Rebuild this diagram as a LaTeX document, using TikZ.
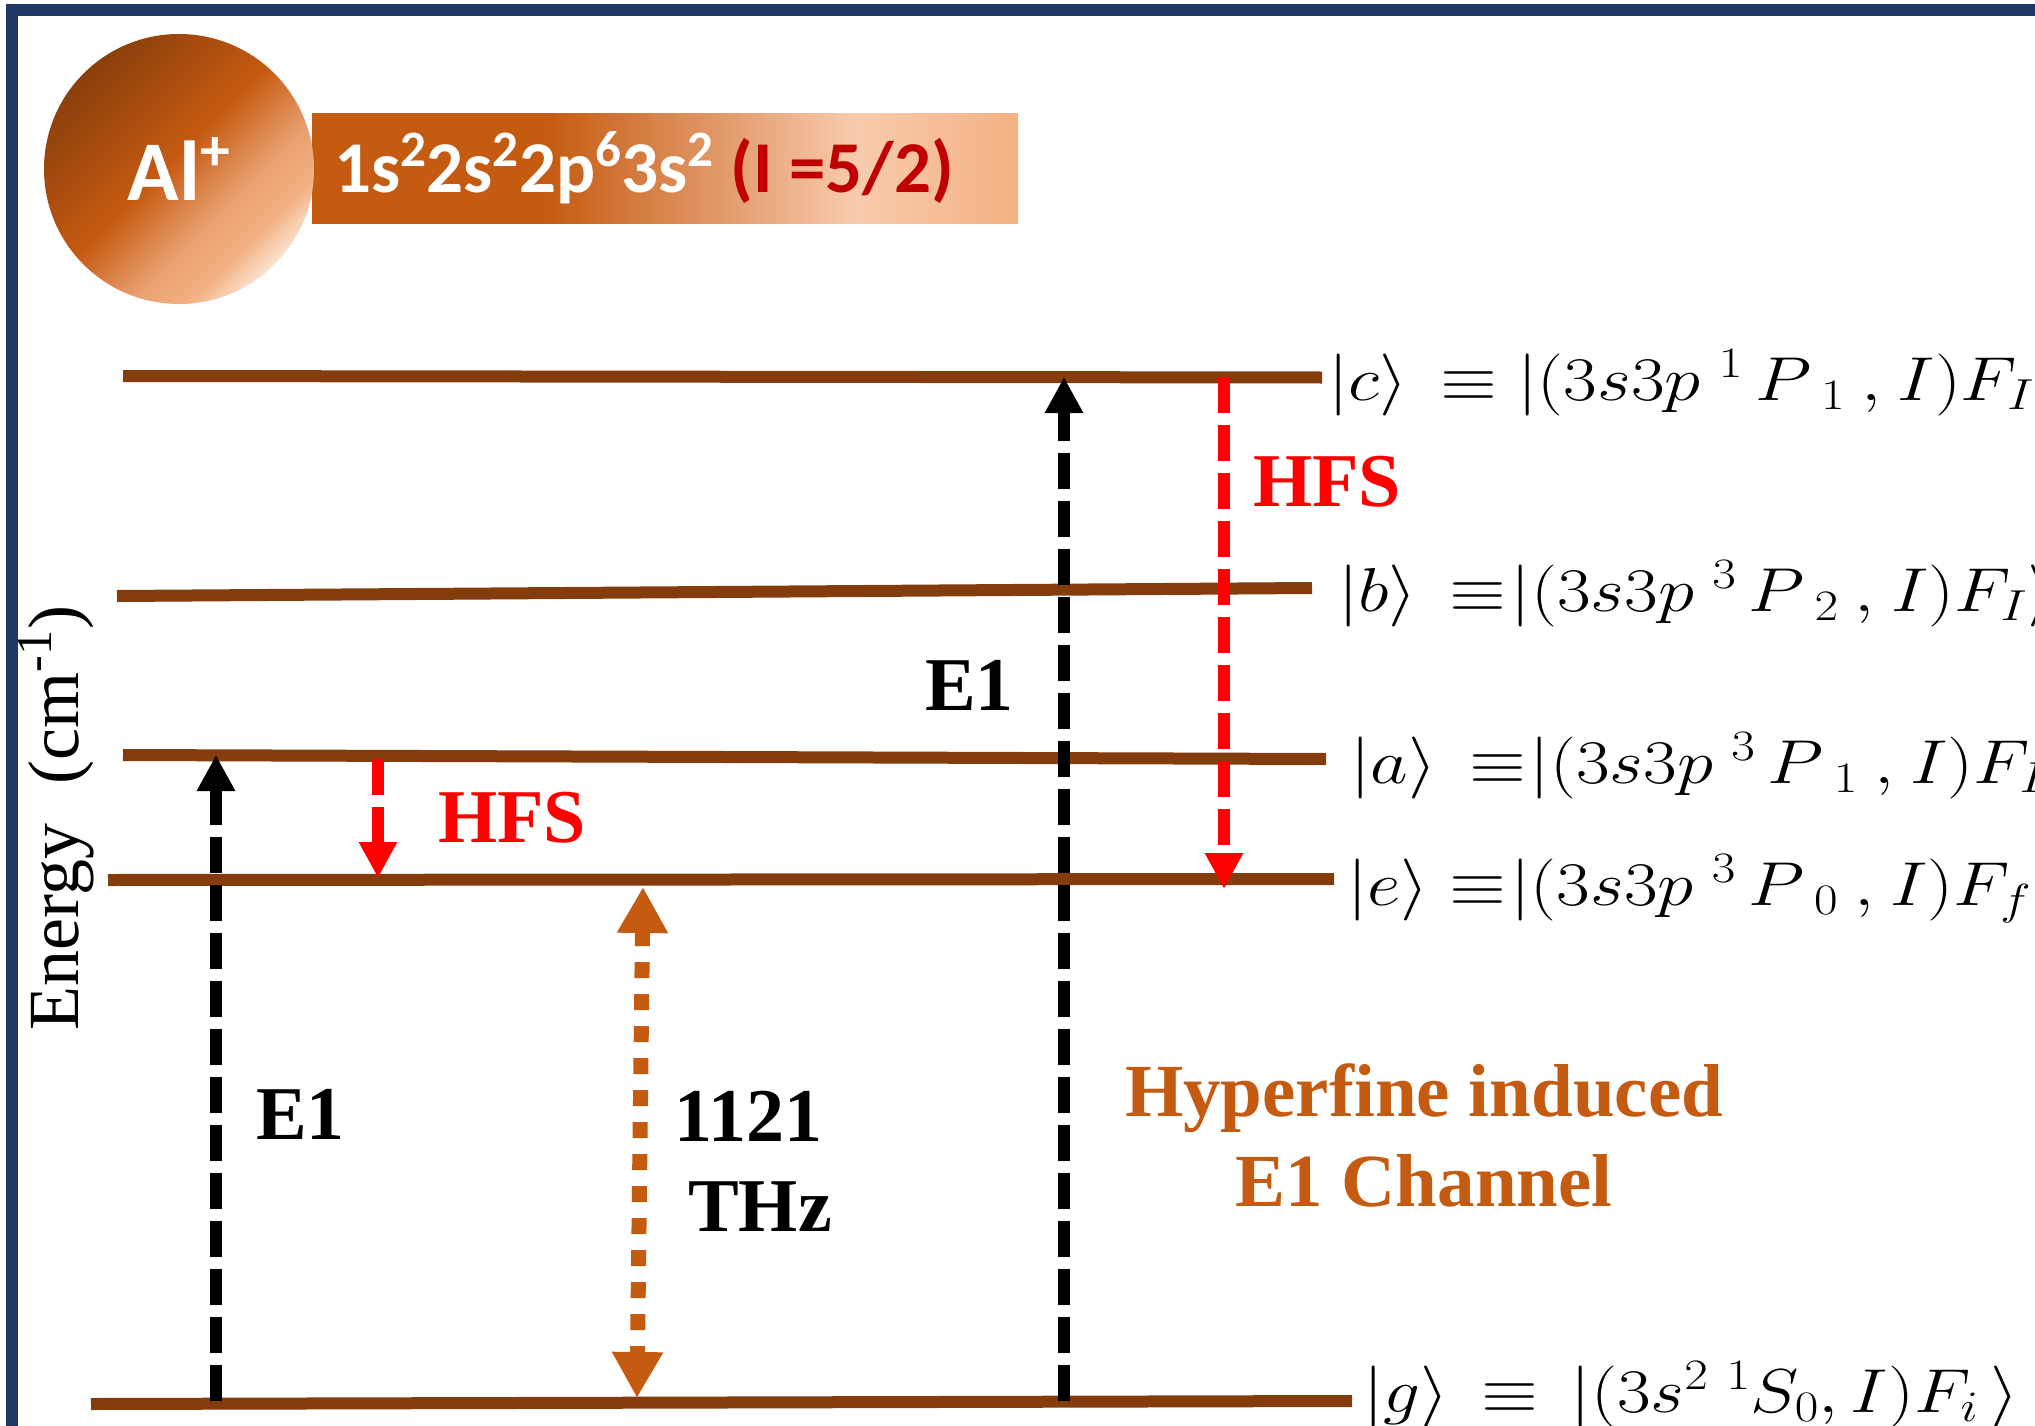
\RequirePackage{fix-cm}
\documentclass[tikz,border=0pt]{standalone}
\usepackage[no-math]{fontspec}
\setmainfont{Liberation Serif}
\newfontfamily\headfont{Carlito}
\usepackage{graphicx}
\usetikzlibrary{arrows.meta}

\definecolor{framenavy}{HTML}{203864}
\definecolor{levelbrown}{HTML}{843C0C}
\definecolor{burnt}{HTML}{C55A11}
\definecolor{darkred}{HTML}{C00000}
\definecolor{hfsred}{HTML}{FF0000}
\definecolor{ballA}{HTML}{8B3F0C}
\definecolor{ballB}{HTML}{C55A11}
\definecolor{ballC}{HTML}{E9A070}
\definecolor{ballD}{HTML}{F4B183}
\definecolor{ballE}{HTML}{FBE2CF}
\definecolor{barA}{HTML}{C55A11}
\definecolor{barB}{HTML}{F8CBAD}
\definecolor{barC}{HTML}{F4B183}

% gradients: the span 25bp..75bp covers the shaded shape
\pgfdeclarehorizontalshading{ballshade}{100bp}{color(0bp)=(ballA); color(25bp)=(ballA);
  color(48bp)=(ballB); color(61bp)=(ballC); color(69bp)=(ballD); color(75bp)=(ballE); color(100bp)=(ballE)}
\pgfdeclarehorizontalshading{barshade}{100bp}{color(0bp)=(barA); color(25bp)=(barA);
  color(41.5bp)=(barA); color(63.5bp)=(barB); color(75bp)=(barC); color(100bp)=(barC)}

\begin{document}
\begin{tikzpicture}[x=1pt,y=-1pt,
  level/.style={levelbrown, line width=12pt},
  eonearrow/.style={black, line width=12pt, dash pattern=on 36pt off 12pt,
    -{Triangle[width=36pt,length=36pt]}},
  hfsarrow/.style={hfsred, line width=12pt, dash pattern=on 36pt off 12pt,
    -{Triangle[width=36pt,length=36pt]}},
  thzarrow/.style={burnt, line width=15pt, dash pattern=on 16pt off 16pt,
    {Triangle[width=48pt,length=46pt]}-{Triangle[width=48pt,length=46pt]}},
  boldlbl/.style={inner sep=0pt, anchor=base west,
    font=\fontsize{76}{80}\selectfont\bfseries},
  statelbl/.style={inner sep=0pt, anchor=base west,
    font=\fontsize{62}{70}\selectfont},
  ball/.style={circle, minimum size=270pt, inner sep=0pt, shading=ballshade,
    shading angle=-45, text=white},
  bar/.style={rectangle, minimum width=706pt, minimum height=110pt, inner sep=0pt,
    shading=barshade, anchor=north west}
]
\useasboundingbox (0,0) rectangle (2035,1426);
\clip (0,0) rectangle (2035,1426);
\fill[white] (0,0) rectangle (2035,1426);

% outer frame (only its top and left edges fall inside the page)
\draw[framenavy, line width=12pt] (12,10) rectangle (2300,1700);

% ion header
\node[bar] (config) at (312,113) {};
\node[ball] (ion) at (179,169)
  {\headfont\fontsize{85}{90}\selectfont\bfseries Al\textsuperscript{+}};
\node[inner sep=0pt, anchor=base west, text=white,
  font=\headfont\fontsize{73}{80}\selectfont\bfseries] (configtext) at (334,193)
  {1s\textsuperscript{2}2s\textsuperscript{2}2p\textsuperscript{6}3s\textsuperscript{2}
   \textcolor{darkred}{(I =5/2)}};

% energy levels
\draw[level] (123,376) coordinate (cL) -- (1322,377.5) coordinate (cR);
\draw[level] (117,596) coordinate (bL) -- (1312,588) coordinate (bR);
\draw[level] (123,755) coordinate (aL) -- (1326,759) coordinate (aR);
\draw[level] (108,880) coordinate (eL) -- (1334,879) coordinate (eR);
\draw[level] (91,1404) coordinate (gL) -- (1352,1401) coordinate (gR);

% transition end points
\coordinate (eoneLbot) at (216,1401);
\coordinate (eoneLtop) at (216,755);
\coordinate (eoneRbot) at (1064,1401);
\coordinate (eoneRtop) at (1064,377);
\coordinate (hfsRtop) at (1224,377);
\coordinate (hfsRbot) at (1224,889);
\coordinate (hfsLtop) at (378,759);
\coordinate (hfsLbot) at (378,878);
\coordinate (thzTop) at (643,887);
\coordinate (thzBot) at (637,1398);

% transitions
\draw[eonearrow] (eoneLbot) -- (eoneLtop);
\draw[eonearrow] (eoneRbot) -- (eoneRtop);
\draw[hfsarrow] (hfsRtop) -- (hfsRbot);
\draw[hfsarrow] (hfsLtop) -- (hfsLbot);
\draw[thzarrow] (thzTop) -- (thzBot);

% transition labels
\node[boldlbl, text=hfsred] (hfsU) at (1253,506) {HFS};
\node[boldlbl, text=hfsred] (hfsD) at (438,842) {HFS};
\node[boldlbl] (eoneU) at (925,710) {E1};
\node[boldlbl] (eoneD) at (256,1139) {E1};
\node[boldlbl] (freq) at (674,1141) {1121};
\node[boldlbl] (unit) at (688,1231) {THz};
\node[boldlbl, anchor=base, text=burnt, font=\fontsize{75}{80}\selectfont\bfseries]
  (chanA) at (1424,1116) {Hyperfine induced};
\node[boldlbl, anchor=base, text=burnt, font=\fontsize{75}{80}\selectfont\bfseries]
  (chanB) at (1424,1206) {E1 Channel};

% axis label
\node[inner sep=0pt, rotate=90, anchor=base, font=\fontsize{72}{76}\selectfont]
  (axis) at (78,818) {Energy\hspace{0.3em} (cm\textsuperscript{-1})};

% state labels
\node[statelbl] (labc) at (1328,400)
  {\scalebox{1.18}[1]{$|c\rangle\,\equiv|(3s3p\ {}^{1}\mkern3mu P_{\mkern7mu 1}\mkern4mu,\mkern1mu I)F_{I}\rangle$}};
\node[statelbl] (labb) at (1338,611)
  {\scalebox{1.18}[1]{$|b\rangle\,\equiv\mkern-4mu|(3s3p\ {}^{3}\mkern3mu P_{\mkern7mu 2}\mkern4mu,\mkern1mu I)F_{I}\rangle$}};
\node[statelbl] (laba) at (1350,783)
  {\scalebox{1.18}[1]{$|a\rangle\,\equiv\mkern-4mu|(3s3p\ {}^{3}\mkern3mu P_{\mkern7mu 1}\mkern4mu,\mkern1mu I)F_{I}\rangle$}};
\node[statelbl] (labe) at (1347,905)
  {\scalebox{1.18}[1]{$|e\rangle\equiv\mkern-4mu\bigl|(3s3p\ {}^{3}\mkern3mu P_{\mkern7mu 0}\mkern4mu,\mkern1mu I)F_{f}\bigr\rangle$}};
\node[statelbl] (labg) at (1363,1412)
  {\scalebox{1.18}[1]{$|g\rangle\,\equiv\,|(3s^{2}\ {}^{1}S_{0},I)F_{i}\mkern3mu\rangle$}};
\end{tikzpicture}
\end{document}
